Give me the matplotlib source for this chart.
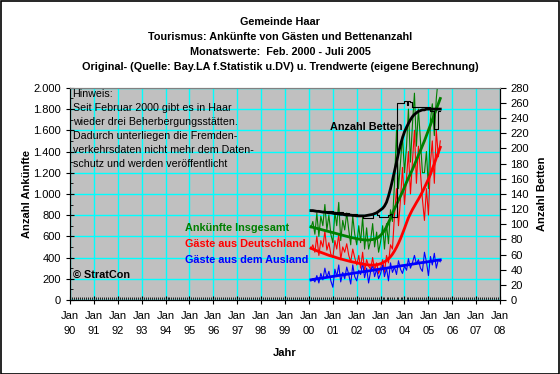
import matplotlib
matplotlib.use("Agg")
import matplotlib.pyplot as plt
import matplotlib.dates as mdates
from matplotlib.ticker import MultipleLocator, FuncFormatter
from matplotlib.patches import Rectangle
import pandas as pd

plt.rcParams['font.family'] = ['Liberation Sans', 'DejaVu Sans']

# monthly values Feb 2000 - Jul 2005
start_month = '2000-02-01'
n_months = 66

betten = [118, 118, 118, 118, 118, 117, 117, 117, 117, 117, 117,
          116, 116, 116, 116, 116, 115, 115, 115, 114, 114, 113, 113,
          112, 112, 112, 108, 108, 108, 108, 108, 115, 116, 112, 110,
          110, 110, 110, 110, 112, 114, 110, 110, 260, 260, 260, 260,
          263, 257, 263, 262, 255, 255, 255, 255, 255, 255, 255, 255,
          255, 250, 250, 226, 226, 250, 250]
betten_trend = [118, 118, 117.5, 117, 117, 116.5, 116, 116, 115.5, 115, 115,
                114.5, 114, 114, 113.5, 113, 113, 112.5, 112, 112, 112, 111.5, 111.5,
                111, 111, 111, 111, 111, 111.5, 112, 112.5, 113, 114, 115, 117,
                119, 121, 124, 129, 137, 147, 158, 170, 182, 194, 205, 214,
                222, 228, 233, 238, 242, 245, 247, 249, 250, 251, 251, 252,
                252, 252, 252, 252, 252, 252, 252]

insgesamt = [680, 740, 620, 820, 600, 790, 700, 900, 660, 800, 620,
             540, 830, 700, 920, 560, 750, 660, 820, 660, 520, 790, 620,
             520, 700, 540, 780, 480, 680, 480, 560, 720, 500, 640, 450,
             550, 700, 480, 720, 530, 850, 740, 1100, 1600, 1050, 1300, 1550,
             1200, 1450, 1800, 1300, 1650, 1950, 1450, 1800, 1500, 1200, 1200, 1400,
             1050, 1700, 1850, 1550, 1900, 2100, 2300]
insgesamt_trend = [690, 685, 680, 675, 670, 665, 660, 655, 650, 645, 640,
                   635, 630, 625, 620, 615, 610, 605, 600, 595, 590, 586, 582,
                   578, 574, 571, 568, 566, 565, 565, 567, 570, 575, 582, 592,
                   610, 630, 655, 690, 730, 770, 815, 860, 900, 940, 980, 1020,
                   1065, 1110, 1150, 1190, 1230, 1275, 1320, 1365, 1410, 1455, 1500, 1550,
                   1600, 1650, 1700, 1750, 1800, 1850, 1900]

deutschland = [480, 520, 450, 600, 420, 560, 500, 650, 470, 540, 430,
               400, 560, 480, 620, 380, 500, 450, 530, 420, 360, 480, 400,
               330, 420, 300, 450, 270, 380, 320, 290, 400, 280, 350, 250,
               300, 380, 260, 420, 350, 520, 480, 800, 1050, 700, 950, 1250,
               900, 1150, 1400, 1000, 1300, 1600, 1100, 1450, 1200, 950, 750, 1050,
               800, 1300, 1500, 1100, 1600, 1350, 1500]
deutschland_trend = [488, 480, 472, 464, 456, 449, 442, 435, 428, 421, 415,
                     410, 404, 398, 392, 387, 382, 377, 372, 367, 362, 358, 354,
                     350, 346, 342, 338, 335, 332, 330, 329, 329, 330, 332, 336,
                     342, 350, 360, 372, 388, 408, 432, 462, 497, 535, 578, 625,
                     675, 728, 775, 815, 852, 885, 918, 950, 985, 1020, 1060, 1100,
                     1140, 1185, 1235, 1285, 1340, 1390, 1440]

ausland = [180, 200, 170, 230, 160, 250, 190, 300, 210, 270, 180,
           120, 290, 220, 330, 170, 260, 200, 310, 240, 150, 330, 220,
           180, 280, 240, 350, 210, 300, 160, 270, 330, 220, 290, 200,
           250, 330, 220, 300, 180, 350, 260, 310, 240, 370, 290, 250,
           320, 280, 390, 300, 350, 420, 340, 380, 300, 270, 450, 360,
           230, 410, 330, 440, 300, 380, 360]
ausland_trend = [190, 193, 196, 199, 202, 205, 207, 210, 213, 216, 219,
                 222, 225, 228, 231, 234, 237, 239, 242, 245, 248, 251, 254,
                 257, 260, 263, 266, 268, 271, 274, 277, 280, 283, 286, 289,
                 292, 295, 297, 300, 303, 306, 309, 312, 315, 318, 321, 324,
                 326, 329, 332, 335, 338, 341, 344, 347, 350, 353, 355, 358,
                 361, 364, 367, 370, 373, 376, 378]

hinweis = ("Hinweis:\nSeit Februar 2000 gibt es in Haar\nwieder drei Beherbergungsstätten.\n"
           "Dadurch unterliegen die Fremden-\nverkehrsdaten nicht mehr dem Daten-\n"
           "schutz und werden veröffentlicht")

months = pd.date_range(start_month, periods=n_months, freq='MS')

fig = plt.figure(figsize=(5.6, 3.74), dpi=100)
ax = fig.add_axes([0.125, 0.198, 0.768, 0.567])
ax.set_facecolor('#C0C0C0')
ax2 = ax.twinx()

# thin original values
ax.plot(months, insgesamt, color='#008000', lw=0.8)
ax.plot(months, deutschland, color='#FF0000', lw=0.8)
ax.plot(months, ausland, color='#0000FF', lw=0.8)
# trends
ax.plot(months, insgesamt_trend, color='#008000', lw=2)
ax.plot(months, deutschland_trend, color='#FF0000', lw=2)
ax.plot(months, ausland_trend, color='#0000FF', lw=2)

ax2.plot(months, betten, color='black', lw=0.8, drawstyle='steps-post')
ax2.plot(months, betten_trend, color='black', lw=2)

ax.set_xlim(pd.Timestamp('1990-01-01'), pd.Timestamp('2008-01-01'))
ax.set_ylim(0, 2000)
ax2.set_ylim(0, 280)

ax.xaxis.set_major_locator(mdates.YearLocator())
ax.xaxis.set_major_formatter(mdates.DateFormatter('%b\n%y'))
ax.xaxis.set_minor_locator(mdates.MonthLocator())
ax.yaxis.set_major_locator(MultipleLocator(200))
ax.yaxis.set_minor_locator(MultipleLocator(100))
ax.yaxis.set_major_formatter(FuncFormatter(lambda v, p: f"{int(v):,}".replace(",", ".")))
ax2.yaxis.set_major_locator(MultipleLocator(20))

ax.grid(True, which='major', color='#00FFFF', lw=1)
ax.set_axisbelow(True)

ax.tick_params(which='major', direction='inout', length=6, width=0.8, labelsize=8,
               colors='black')
ax.tick_params(which='minor', direction='in', length=2.5, width=0.6)
ax.tick_params(axis='x', which='major', pad=5)
for lab in ax.get_xticklabels():
    lab.set_linespacing(1.6)
ax2.tick_params(direction='out', length=4, width=0.8, labelsize=8)

for a in (ax, ax2):
    a.spines['top'].set_color('#808080')

ax.set_ylabel('Anzahl Ankünfte', fontsize=8, fontweight='bold', labelpad=1)
ax2.set_ylabel('Anzahl Betten', fontsize=8, fontweight='bold', labelpad=6)
ax.set_xlabel('Jahr', fontsize=8, fontweight='bold', labelpad=9)

ax.text(0.006, 0.995, hinweis, transform=ax.transAxes, ha='left', va='top',
        fontsize=7.7, linespacing=1.5)
ax.text(0.007, 0.118, '© StratCon', transform=ax.transAxes, ha='left', va='center',
        fontsize=7.8, fontweight='bold')
ax.text(0.267, 0.34, 'Ankünfte Insgesamt', transform=ax.transAxes, color='#008000',
        ha='left', va='center', fontsize=7.8, fontweight='bold')
ax.text(0.267, 0.264, 'Gäste aus Deutschland', transform=ax.transAxes, color='#FF0000',
        ha='left', va='center', fontsize=7.8, fontweight='bold')
ax.text(0.267, 0.189, 'Gäste aus dem Ausland', transform=ax.transAxes, color='#0000FF',
        ha='left', va='center', fontsize=7.8, fontweight='bold')
ax.text(0.605, 0.816, 'Anzahl Betten', transform=ax.transAxes, color='black',
        ha='left', va='center', fontsize=7.8, fontweight='bold')

titles = ["Gemeinde Haar",
          "Tourismus: Ankünfte von Gästen und Bettenanzahl",
          "Monatswerte:  Feb. 2000 - Juli 2005",
          "Original- (Quelle: Bay.LA f.Statistik u.DV) u. Trendwerte (eigene Berechnung)"]
for i, t in enumerate(titles):
    fig.text(0.5, 1 - (22 + 15 * i) / 374, t, ha='center', va='center',
             fontsize=7.8, fontweight='bold')

fig.patches.append(Rectangle((0.001, 0.001), 0.997, 0.996, transform=fig.transFigure,
                             fill=False, edgecolor='black', lw=1.2))

fig.savefig('out.png', dpi=100)
